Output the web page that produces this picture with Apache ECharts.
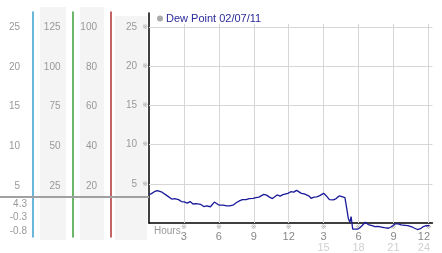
<!DOCTYPE html>
<html><head><meta charset="utf-8">
<script src="https://cdn.jsdelivr.net/npm/echarts@6/dist/echarts.min.js"></script>
<style>html,body{margin:0;padding:0;background:#fff}#c{width:442px;height:253px}</style>
</head><body><div id="c"></div>
<script>
// ---- data ----
const legendName = 'Dew Point 02/07/11';
const hours = [0,0.21,0.46,0.71,0.87,1.12,1.29,1.54,1.70,1.95,2.20,2.37,2.54,2.78,3.03,3.28,3.53,3.78,4.03,4.20,4.45,4.70,4.95,5.28,5.45,5.61,5.78,6.03,6.36,6.69,6.94,7.27,7.52,7.77,8.02,8.35,8.60,8.94,9.19,9.44,9.61,9.86,10.10,10.35,10.60,10.77,11.01,11.26,11.51,11.68,11.93,12.18,12.43,12.68,12.84,13.09,13.34,13.51,13.76,13.92,14.17,14.42,14.67,15.00,15.25,15.50,15.83,16.08,16.33,16.58,16.83,17.00,17.12,17.25,17.36,17.50,17.67,17.92,18.17,18.33,18.58,18.83,19.16,19.41,19.66,19.99,20.24,20.57,20.82,21.16,21.41,21.65,21.99,22.24,22.57,22.82,23.07,23.32,23.57,23.82,24.10];
const dewPoint = [3.61,3.74,3.99,4.12,4.30,3.93,3.68,3.49,3.32,3.05,3.11,2.86,2.98,2.73,2.70,2.54,2.73,2.42,2.48,2.27,2.36,2.10,2.17,2.07,2.23,2.67,2.48,2.27,2.29,2.19,2.19,2.32,2.61,2.82,2.98,2.98,3.11,3.15,3.24,3.30,3.45,3.65,3.55,3.30,3.11,3.36,3.58,3.43,3.61,3.68,3.77,3.99,3.93,4.16,4.06,3.78,3.70,3.68,3.43,3.15,3.30,3.32,3.49,3.78,3.43,2.98,2.95,3.11,3.45,3.36,3.24,1.73,0.59,0.09,0.81,-0.79,-0.83,-0.79,-0.54,-0.29,0.09,-0.20,-0.33,-0.45,-0.42,-0.54,-0.60,-0.67,-0.48,-0.10,-0.10,-0.25,-0.29,-0.33,-0.48,-0.67,-0.83,-0.73,-0.45,-0.35,-0.33];
const yTicks = [5,10,15,20,25];
const col2Ticks = [25,50,75,100,125];
const col3Ticks = [20,40,60,80,100];
const xTicks = [3,6,9,12,15,18,21,24];
const summaryLabels = ['4.3','-0.3','-0.8'];
const xLabelName = 'Hours';
const tickMark = '\u203B';

// ---- layout ----
const PX = 7.95, Y0 = 225.75;          // px per unit, pixel row of value 0
const MAIN_TOP = 13, SIDE_TOP = 12, SIDE_BOT = 237;
const mainMax = (Y0 - MAIN_TOP) / PX;
const sideMin = -(SIDE_BOT - Y0) / PX, sideMax = (Y0 - SIDE_TOP) / PX;
const FONT = 'Arial, "Liberation Sans", sans-serif';
const MARKFONT = '"DejaVu Sans", "Noto Sans CJK SC", sans-serif';
const LBL = '#999';

const data = hours.map((h, i) => [h, dewPoint[i]]);

function sideGrid(left) { return {left: left, top: SIDE_TOP, width: 1, height: SIDE_BOT - SIDE_TOP}; }
function sideY(gi, factor, ticks, color, margin) {
  return {type: 'value', gridIndex: gi, min: sideMin * factor, max: sideMax * factor, position: 'left',
    axisLine: {show: true, lineStyle: {color: color, width: 1.5}}, axisTick: {show: false}, splitLine: {show: false},
    axisLabel: {customValues: ticks, margin: margin, color: LBL, fontSize: 10, fontFamily: FONT}};
}
function hiddenX(gi) { return {type: 'value', gridIndex: gi, show: false, min: 0, max: 1}; }

const option = {
  animation: false,
  backgroundColor: '#fff',
  legend: {left: 157, top: 13, padding: 0, icon: 'circle', itemWidth: 6, itemHeight: 6, itemGap: 4,
    data: [{name: legendName, itemStyle: {color: '#aaa'}}],
    textStyle: {color: '#2a2a9a', fontSize: 11, fontFamily: FONT, padding: [0, 0, 0, -2]}},
  grid: [
    {left: 149, top: MAIN_TOP, right: 0, height: Y0 - MAIN_TOP},
    sideGrid(33), sideGrid(72.5), sideGrid(111),
    {left: 0, top: SIDE_TOP, width: 149, height: SIDE_BOT - SIDE_TOP}
  ],
  xAxis: [
    {type: 'value', gridIndex: 0, min: 0, max: 24.35,
      axisLine: {show: true, onZero: false, lineStyle: {color: '#000', width: 1.5}},
      axisTick: {show: false}, splitLine: {show: false},
      axisLabel: {customValues: xTicks, margin: 1, color: LBL, fontFamily: FONT,
        formatter: function (v) {
          const h = v > 12 ? v - 12 : v;
          const last = v === xTicks[xTicks.length - 1];
          let s = '{m|' + tickMark + '}\n{' + (last ? 'nl' : 'n') + '|' + h + '}';
          if (v > 12) s += '\n{' + (last ? 'gl' : 'g') + '|' + v + '}';
          return s;
        },
        rich: {
          m: {fontSize: 7, lineHeight: 7, color: '#a8a8a8', fontFamily: MARKFONT},
          n: {fontSize: 11, lineHeight: 11, color: '#888', fontFamily: FONT},
          nl: {fontSize: 11, lineHeight: 11, color: '#888', fontFamily: FONT, padding: [0, 9, 0, 0]},
          g: {fontSize: 11, lineHeight: 11, color: '#d0d0d0', fontFamily: FONT},
          gl: {fontSize: 11, lineHeight: 11, color: '#d0d0d0', fontFamily: FONT, padding: [0, 9, 0, 0]}
        }}},
    hiddenX(1), hiddenX(2), hiddenX(3), hiddenX(4)
  ],
  yAxis: [
    {type: 'value', gridIndex: 0, min: 0, max: mainMax,
      axisLine: {show: true, onZero: false, lineStyle: {color: '#000', width: 1.5}},
      axisTick: {show: false}, splitLine: {show: false},
      axisLabel: {customValues: yTicks, margin: 1, fontFamily: FONT,
        formatter: function (v) { return '{v|' + v + '}{m|' + tickMark + '}'; },
        rich: {v: {fontSize: 10, color: LBL, fontFamily: FONT},
               m: {fontSize: 7, color: '#a8a8a8', fontFamily: MARKFONT, padding: [0, 0, 0, 5]}}}},
    sideY(1, 1, yTicks, '#3a9fd0', 13),
    sideY(2, 5, col2Ticks, '#3aa03a', 12),
    sideY(3, 4, col3Ticks, '#b03232', 14),
    {type: 'value', gridIndex: 4, min: sideMin, max: sideMax, show: false}
  ],
  series: [
    {type: 'line', name: 'grid', xAxisIndex: 0, yAxisIndex: 0, data: [], z: 1, silent: true,
      markLine: {silent: true, symbol: 'none', label: {show: false}, animation: false,
        lineStyle: {color: '#d6d6d6', width: 1, type: 'solid'},
        data: yTicks.map(v => ({yAxis: v})).concat(
          xTicks.map(h => [{coord: [h, 0]}, {coord: [h, 25.38]}]))}},
    {type: 'line', name: legendName, xAxisIndex: 0, yAxisIndex: 0, data: data, showSymbol: false,
      clip: false, z: 5, lineStyle: {color: '#1a1a9a', width: 1.3}, itemStyle: {color: '#1a1a9a'}},
    {type: 'line', name: 'start', xAxisIndex: 4, yAxisIndex: 4, data: [[0, dewPoint[0]]], showSymbol: false,
      lineStyle: {opacity: 0}, z: 2,
      markLine: {silent: true, symbol: 'none', label: {show: false}, animation: false,
        lineStyle: {color: '#a0a0a0', width: 2, type: 'solid'}, data: [{yAxis: dewPoint[0]}]}}
  ],
  graphic: [
    {type: 'rect', z: -10, shape: {x: 40, y: 7, width: 26, height: 233}, style: {fill: '#f4f4f4'}},
    {type: 'rect', z: -10, shape: {x: 80, y: 7, width: 24, height: 233}, style: {fill: '#f4f4f4'}},
    {type: 'rect', z: -10, shape: {x: 115, y: 16, width: 32, height: 224}, style: {fill: '#f4f4f4'}},
    {type: 'text', x: 154, y: 226, style: {text: xLabelName, fill: '#999', font: '10px ' + FONT}},
  ].concat(summaryLabels.map((t, i) => ({type: 'text', x: 27, y: 199 + i * 13.5,
      style: {text: t, fill: '#999', font: '10px ' + FONT, textAlign: 'right'}})))
};
const chart = echarts.init(document.getElementById('c'), null, {renderer: 'canvas'});
chart.setOption(option);
</script></body></html>
